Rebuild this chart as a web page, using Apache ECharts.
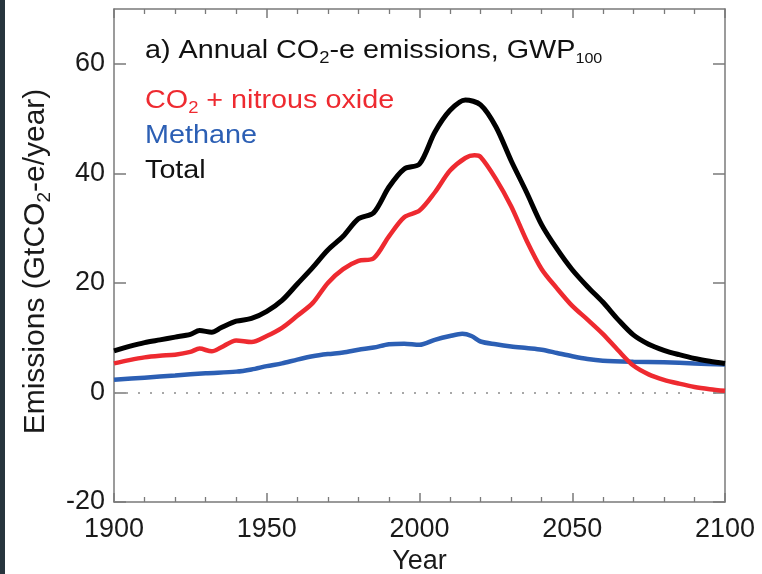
<!DOCTYPE html>
<html>
<head>
<meta charset="utf-8">
<script src="https://cdn.jsdelivr.net/npm/echarts@6/dist/echarts.min.js"></script>
<style>
  html, body { margin: 0; padding: 0; background: #ffffff; }
  #chart { width: 762px; height: 574px; }
</style>
</head>
<body>
<div id="chart"></div>
<script>
// Annual CO2-equivalent emissions (GtCO2-e/year), GWP100 weighting

// Axis tick values
const xTicks = [1900, 1950, 2000, 2050, 2100];
const yTicks = [-20, 0, 20, 40, 60];

// CO2 + nitrous oxide
const co2Years = [1900, 1905, 1910, 1915, 1920, 1925, 1928, 1932, 1935, 1940, 1945, 1950, 1955, 1960, 1965, 1970, 1975, 1980, 1985, 1990, 1995, 2000, 2005, 2010, 2015, 2018, 2020, 2025, 2030, 2035, 2040, 2045, 2050, 2055, 2060, 2065, 2070, 2075, 2080, 2085, 2090, 2095, 2100];
const co2Values = [5.3, 5.9, 6.4, 6.7, 6.9, 7.4, 8.0, 7.5, 8.2, 9.5, 9.2, 10.3, 11.8, 14.0, 16.3, 20.0, 22.5, 24.0, 24.5, 28.5, 32.0, 33.2, 36.5, 40.5, 42.8, 43.3, 43.0, 39.0, 34.0, 27.8, 22.5, 19.0, 15.8, 13.3, 10.7, 7.7, 4.9, 3.3, 2.3, 1.6, 1.0, 0.6, 0.3];

// Methane
const ch4Years = [1900, 1910, 1920, 1930, 1940, 1945, 1950, 1955, 1960, 1965, 1970, 1975, 1980, 1985, 1990, 1995, 2000, 2005, 2010, 2014, 2017, 2020, 2025, 2030, 2035, 2040, 2045, 2050, 2055, 2060, 2070, 2080, 2090, 2100];
const ch4Values = [2.3, 2.7, 3.1, 3.5, 3.8, 4.2, 4.8, 5.3, 6.0, 6.6, 7.0, 7.3, 7.8, 8.2, 8.8, 8.9, 8.7, 9.6, 10.3, 10.7, 10.3, 9.3, 8.8, 8.4, 8.1, 7.8, 7.2, 6.6, 6.1, 5.8, 5.6, 5.5, 5.3, 5.1];

// Total
const totalYears = [1900, 1905, 1910, 1915, 1920, 1925, 1928, 1932, 1935, 1940, 1945, 1950, 1955, 1960, 1965, 1970, 1975, 1980, 1985, 1990, 1995, 2000, 2005, 2010, 2015, 2020, 2025, 2030, 2035, 2040, 2045, 2050, 2055, 2060, 2065, 2070, 2075, 2080, 2085, 2090, 2095, 2100];
const totalValues = [7.6, 8.4, 9.1, 9.6, 10.1, 10.6, 11.3, 11.0, 11.8, 13.0, 13.5, 14.8, 16.8, 19.8, 22.8, 26.0, 28.5, 31.7, 32.8, 37.5, 40.8, 41.7, 47.5, 51.5, 53.4, 52.5, 48.5, 42.3, 36.6, 30.6, 26.2, 22.4, 19.3, 16.5, 13.3, 10.5, 8.8, 7.7, 6.9, 6.2, 5.7, 5.3];

const seriesNames = ['CO\u2082 + nitrous oxide', 'Methane', 'Total'];
const seriesColors = ['#ee2a30', '#2c5fb4', '#000000'];

const FONT = "'Liberation Sans', Arial, Helvetica, sans-serif";
const AXIS_GRAY = '#7a7a7a';
const TEXT = '#1a1a1a';

function pairs(xs, ys) { return xs.map((x, i) => [x, ys[i]]); }

// subscript token: top padding pushes the small glyphs down below the baseline
function subToken(size, drop, color) {
  return { fontSize: size, lineHeight: size, padding: [drop, 0, 0, 0], verticalAlign: 'middle', fontFamily: FONT, fill: color, color: color };
}

function xAxisDef(pos, showLabels) {
  return {
    type: 'value', position: pos, min: 1900, max: 2100, interval: 50,
    axisLine: { show: true, onZero: false, lineStyle: { color: AXIS_GRAY, width: 1.5 } },
    axisTick: { show: true, inside: true, length: 9, lineStyle: { color: AXIS_GRAY, width: 1.5 } },
    minorTick: { show: true, splitNumber: 5, length: 5, lineStyle: { color: AXIS_GRAY, width: 1.3 } },
    splitLine: { show: false },
    axisLabel: { show: showLabels, fontSize: 27, fontFamily: FONT, color: TEXT, margin: 14,
                 formatter: v => String(v) },
    name: showLabels ? 'Year' : '',
    nameLocation: 'middle', nameGap: 44,
    nameTextStyle: { fontSize: 27, fontFamily: FONT, color: TEXT }
  };
}

function yAxisDef(pos, showLabels) {
  return {
    type: 'value', position: pos, min: -20, max: 70, interval: 20,
    axisLine: { show: true, onZero: false, lineStyle: { color: AXIS_GRAY, width: 1.5 } },
    axisTick: { show: true, inside: true, length: 12, customValues: yTicks, lineStyle: { color: AXIS_GRAY, width: 1.5 } },
    splitLine: { show: false },
    axisLabel: { show: showLabels, fontSize: 27, fontFamily: FONT, color: TEXT, margin: 9,
                 customValues: yTicks },
    name: showLabels ? 'Emissions (GtCO{s|2}-e/year)' : '',
    nameLocation: 'middle', nameGap: 63, nameRotate: 90,
    nameTextStyle: { fontSize: 30, fontFamily: FONT, color: TEXT, padding: [0, 12, 0, 0],
                     rich: { s: subToken(19, 18, TEXT) } }
  };
}

function label(y, text, color) {
  return {
    type: 'text', x: 145, y: y, scaleX: 1.15, z: 100,
    style: {
      text: text, fill: color, fontSize: 25, fontFamily: FONT,
      align: 'left', verticalAlign: 'middle',
      rich: { s: subToken(16, 15, color), t: subToken(14, 16, color) }
    }
  };
}

const chart = echarts.init(document.getElementById('chart'), null, { renderer: 'canvas' });

chart.setOption({
  backgroundColor: '#ffffff',
  animation: false,
  grid: { left: 114, right: 37, top: 9, bottom: 72, containLabel: false, outerBoundsMode: 'none' },
  xAxis: [xAxisDef('bottom', true), xAxisDef('top', false)],
  yAxis: [yAxisDef('left', true), yAxisDef('right', false)],
  series: [
    {
      name: seriesNames[1], type: 'line', data: pairs(ch4Years, ch4Values),
      showSymbol: false, smooth: 0.3, z: 3,
      lineStyle: { color: seriesColors[1], width: 4.5 },
      markLine: {
        silent: true, symbol: 'none', label: { show: false },
        lineStyle: { color: '#8c8c8c', type: [2, 10], width: 1.6 },
        data: [{ yAxis: 0 }]
      }
    },
    {
      name: seriesNames[0], type: 'line', data: pairs(co2Years, co2Values),
      showSymbol: false, smooth: 0.3, z: 4,
      lineStyle: { color: seriesColors[0], width: 4.5 }
    },
    {
      name: seriesNames[2], type: 'line', data: pairs(totalYears, totalValues),
      showSymbol: false, smooth: 0.3, z: 5,
      lineStyle: { color: seriesColors[2], width: 5 }
    }
  ],
  graphic: [
    { type: 'rect', left: 0, top: 0, shape: { width: 5, height: 574 }, style: { fill: '#27353d' } },
    label(51.5, 'a) Annual CO{s|2}-e emissions, GWP{t|100}', '#111111'),
    label(101.5, 'CO{s|2} + nitrous oxide', seriesColors[0]),
    label(136, seriesNames[1], seriesColors[1]),
    label(171, seriesNames[2], '#111111')
  ]
});
</script>
</body>
</html>
